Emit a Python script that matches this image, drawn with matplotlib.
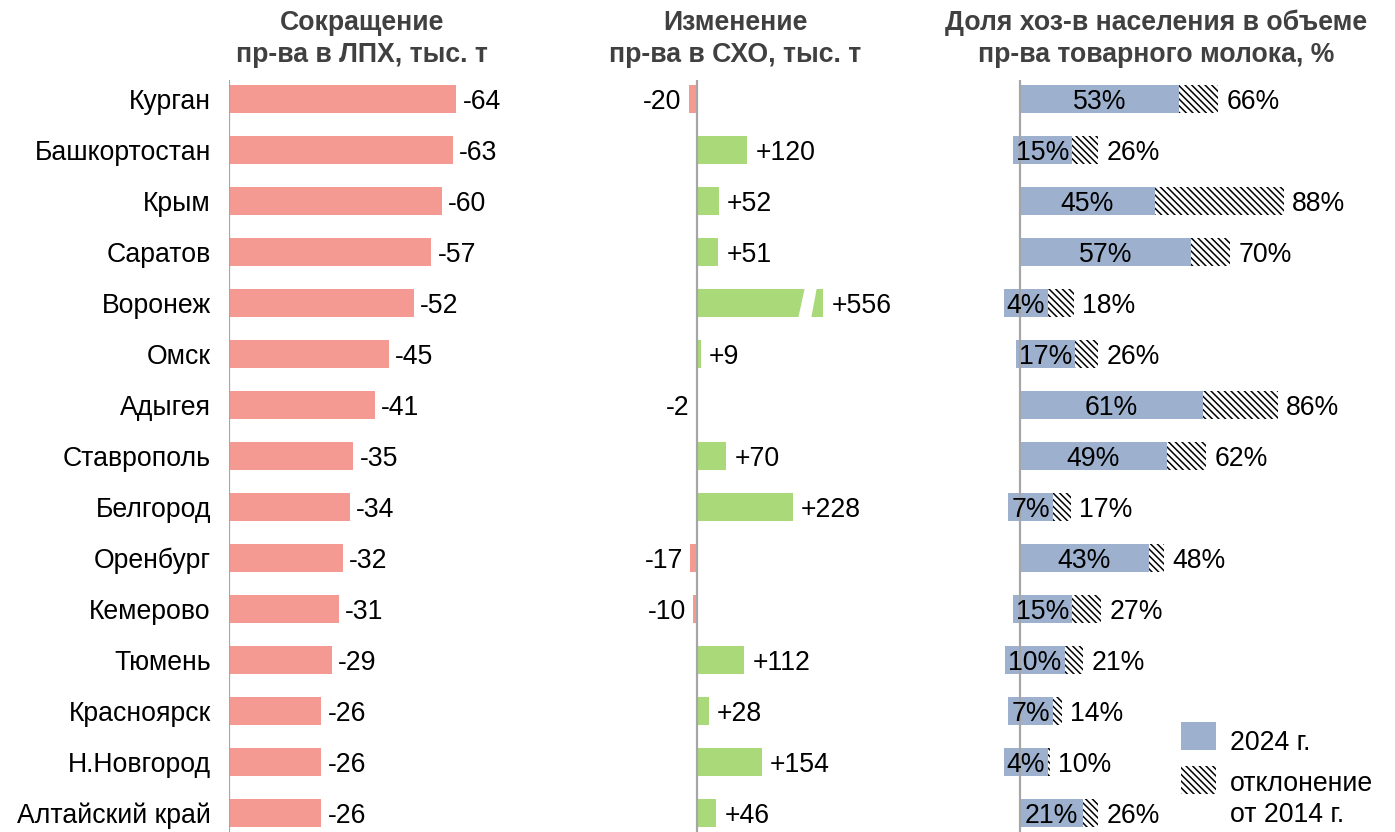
import matplotlib
matplotlib.use('Agg')
import matplotlib.pyplot as plt
from matplotlib.patches import Rectangle, Polygon

# ---------------- data ----------------
regions = ['Курган', 'Башкортостан', 'Крым', 'Саратов', 'Воронеж', 'Омск', 'Адыгея',
           'Ставрополь', 'Белгород', 'Оренбург', 'Кемерово', 'Тюмень', 'Красноярск',
           'Н.Новгород', 'Алтайский край']
lph_decline = [-64, -63, -60, -57, -52, -45, -41, -35, -34, -32, -31, -29, -26, -26, -26]
sxo_change = [-20, 120, 52, 51, 556, 9, -2, 70, 228, -17, -10, 112, 28, 154, 46]
share_2024 = [53, 15, 45, 57, 4, 17, 61, 49, 7, 43, 15, 10, 7, 4, 21]
share_2014 = [66, 26, 88, 70, 18, 26, 86, 62, 17, 48, 27, 21, 14, 10, 26]

titles = [('Сокращение', 'пр-ва в ЛПХ, тыс. т'),
          ('Изменение', 'пр-ва в СХО, тыс. т'),
          ('Доля хоз-в населения в объеме', 'пр-ва товарного молока, %')]
legend_labels = ['2024 г.', ('отклонение', 'от 2014 г.')]
sxo_cap = 300  # broken-axis display limit for the large value

# ---------------- style ----------------
plt.rcParams['font.family'] = ['Liberation Sans', 'DejaVu Sans']
plt.rcParams['hatch.linewidth'] = 1.1
FS = 19.2
SALMON = '#F59A93'
GREEN = '#A9D979'
BLUE = '#9DB1CF'
AXGREY = '#A6A6A6'
TITLEC = '#404040'
HATCH = '\\\\\\\\\\'
BAR_H = 0.55
VA = 'center_baseline'

W, H = 1395, 832
fig = plt.figure(figsize=(W / 100, H / 100), dpi=100)

ROW0, PITCH = 99, 51
AX_TOP, AX_BOT = 80, 832


def px_axes(left, right):
    ax = fig.add_axes([left / W, 1 - AX_BOT / H, (right - left) / W, (AX_BOT - AX_TOP) / H])
    ax.set_ylim((AX_BOT - ROW0) / PITCH, (AX_TOP - ROW0) / PITCH)
    for s in ax.spines.values():
        s.set_visible(False)
    ax.set_xticks([])
    ax.set_yticks([])
    ax.axvline(0, color=AXGREY, lw=1.6, zorder=5)
    return ax


ys = list(range(len(regions)))

# ---------------- panel 1 ----------------
ax1 = px_axes(229, 560)
s1 = 3.55
ax1.set_xlim(0, (560 - 229) / s1)
ax1.barh(ys, [abs(v) for v in lph_decline], height=BAR_H, color=SALMON, zorder=2)
for y, v in zip(ys, lph_decline):
    ax1.annotate(f'{v}', xy=(abs(v), y), xytext=(4.5, 0), textcoords='offset points',
                 ha='left', va=VA, fontsize=FS)
ax1.set_yticks(ys)
ax1.set_yticklabels(regions, fontsize=FS, va=VA)
ax1.tick_params(axis='y', length=0, pad=13)

# ---------------- panel 2 ----------------
s2 = 0.42
L2, R2, Z2 = 600, 900, 697
ax2 = px_axes(L2, R2)
ax2.set_xlim((L2 - Z2) / s2, (R2 - Z2) / s2)
disp = [min(v, sxo_cap) for v in sxo_change]
cols = [GREEN if v > 0 else SALMON for v in sxo_change]
ax2.barh(ys, disp, height=BAR_H, color=cols, zorder=2)
for y, v, d in zip(ys, sxo_change, disp):
    if v > 0:
        ax2.annotate(f'+{v}', xy=(d, y), xytext=(6, 0), textcoords='offset points',
                     ha='left', va=VA, fontsize=FS)
    else:
        ax2.annotate(f'{v}', xy=(d, y), xytext=(-5, 0), textcoords='offset points',
                     ha='right', va=VA, fontsize=FS)
    if v > sxo_cap:
        # break marker: white slanted gap near the bar end
        h = BAR_H / 2 + 0.04
        g_top = (d - 18 / s2, d - 6 / s2)
        g_bot = (d - 25 / s2, d - 12 / s2)
        ax2.add_patch(Polygon([(g_top[0], y - h), (g_top[1], y - h),
                               (g_bot[1], y + h), (g_bot[0], y + h)],
                              closed=True, facecolor='white', edgecolor='none', zorder=3))

# ---------------- panel 3 ----------------
s3 = 3.0
L3, R3, Z3 = 990, 1395, 1020
ax3 = px_axes(L3, R3)
ax3.set_xlim((L3 - Z3) / s3, (R3 - Z3) / s3)
ax3.barh(ys, share_2024, height=BAR_H, color=BLUE, zorder=2)
ax3.barh(ys, [b - a for a, b in zip(share_2024, share_2014)], left=share_2024,
         height=BAR_H, color='white', hatch=HATCH, edgecolor='black', lw=0, zorder=2)
lbls = []
for y, a, b in zip(ys, share_2024, share_2014):
    t = ax3.text(a / 2, y, f'{a}%', ha='center', va=VA, fontsize=FS, zorder=7)
    lbls.append((t, a, y))
    ax3.annotate(f'{b}%', xy=(b, y), xytext=(6, 0), textcoords='offset points',
                 ha='left', va=VA, fontsize=FS)

fig.canvas.draw()
r = fig.canvas.get_renderer()
inv = ax3.transData.inverted()
PADX = 3
for t, a, y in lbls:
    bb = t.get_window_extent(r)
    x0 = inv.transform((bb.x0 - PADX, 0))[0]
    x1 = inv.transform((bb.x1 + PADX, 0))[0]
    if x1 - x0 > a:
        ax3.add_patch(Rectangle((x0, y - BAR_H / 2), x1 - x0, BAR_H,
                                facecolor=BLUE, edgecolor='none', zorder=4))

# ---------------- titles ----------------
for cx, (l1, l2) in zip([362, 735, 1156], titles):
    fig.text(cx / W, 1 - 20 / H, l1, ha='center', va=VA, fontsize=FS,
             fontweight='bold', color=TITLEC)
    fig.text(cx / W, 1 - 52 / H, l2, ha='center', va=VA, fontsize=FS,
             fontweight='bold', color=TITLEC)

# ---------------- legend ----------------
def fig_rect(x, y, w, h, **kw):
    fig.add_artist(Rectangle((x / W, 1 - (y + h) / H), w / W, h / H,
                             transform=fig.transFigure, **kw))

fig_rect(1181, 722, 35, 28, facecolor=BLUE, edgecolor='none')
fig_rect(1181, 766, 35, 28, facecolor='white', edgecolor='black', lw=0, hatch=HATCH)
fig.text(1230 / W, 1 - 740 / H, legend_labels[0], ha='left', va=VA, fontsize=FS)
fig.text(1230 / W, 1 - 781 / H, legend_labels[1][0], ha='left', va=VA, fontsize=FS)
fig.text(1230 / W, 1 - 812 / H, legend_labels[1][1], ha='left', va=VA, fontsize=FS)

fig.savefig('out.png', dpi=100)
